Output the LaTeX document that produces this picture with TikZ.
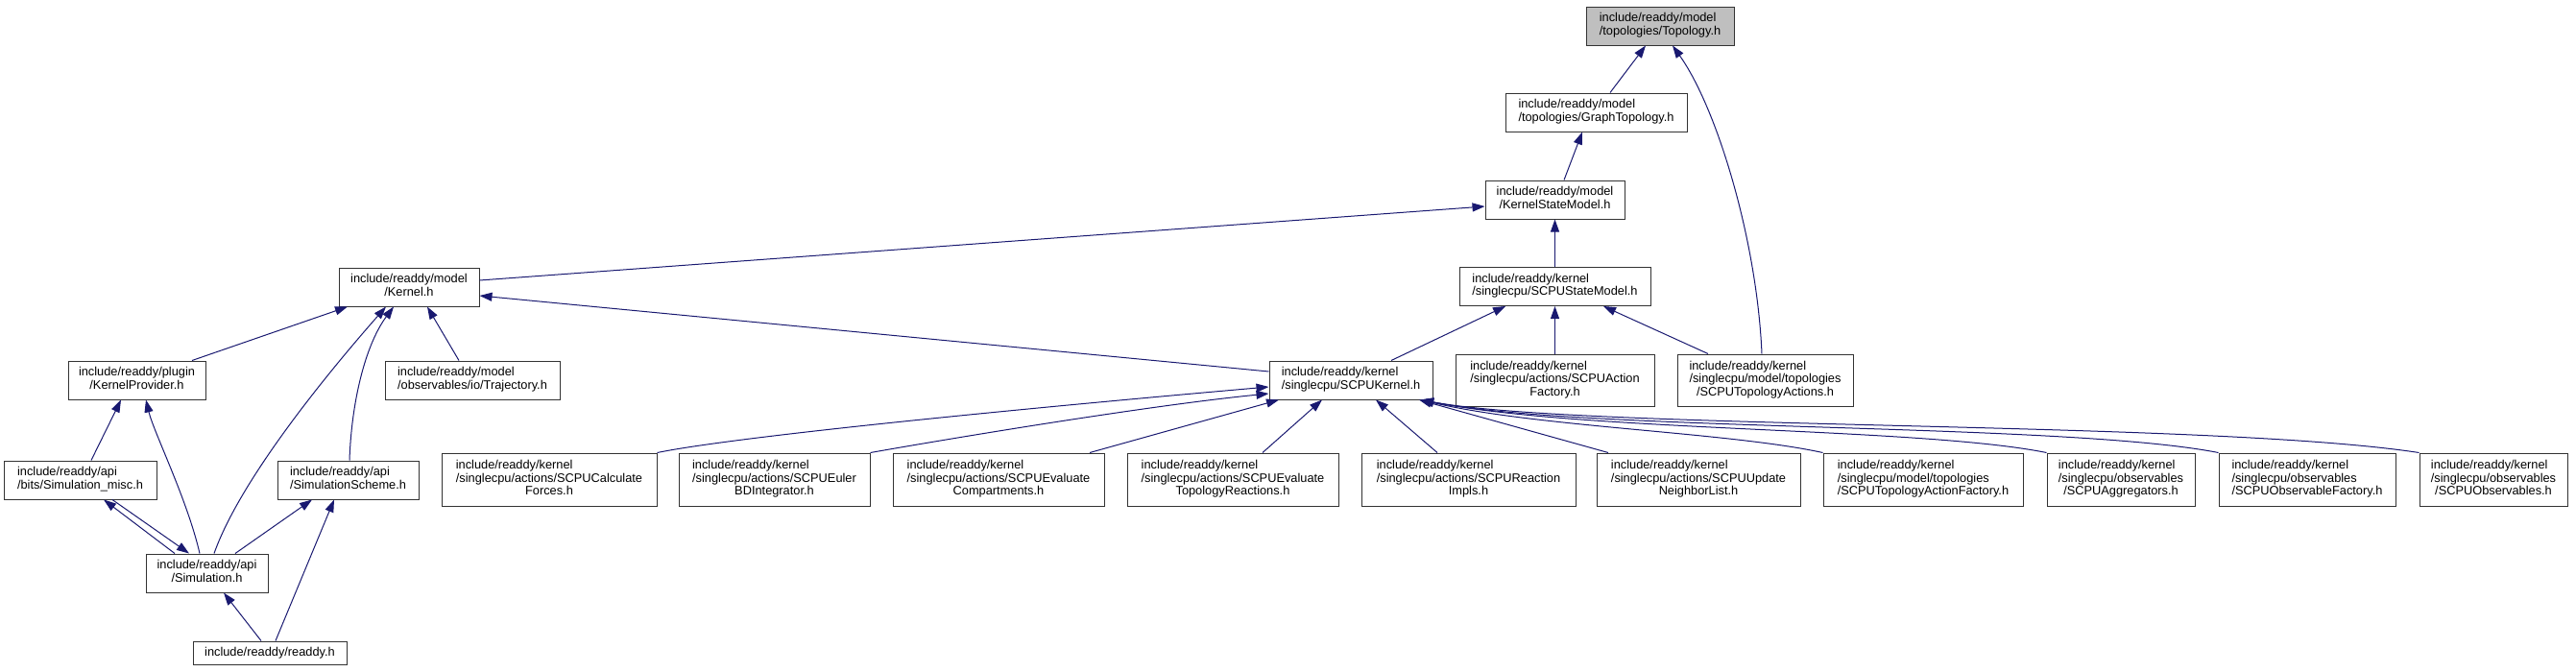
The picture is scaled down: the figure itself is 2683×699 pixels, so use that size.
\documentclass[tikz,border=0pt]{standalone}
\usepackage{fontspec}
\setmainfont{Liberation Sans}
\usetikzlibrary{arrows.meta}
\definecolor{edgeblue}{HTML}{191970}
\definecolor{topfill}{HTML}{BFBFBF}
\newcommand{\twol}[2]{\begin{tabular}{@{}l@{}}#1\\\multicolumn{1}{@{}c@{}}{#2}\end{tabular}}
\newcommand{\threel}[3]{\begin{tabular}{@{}l@{}}#1\\#2\\\multicolumn{1}{@{}c@{}}{#3}\end{tabular}}
\begin{document}
\begin{tikzpicture}[x=1pt,y=-1pt,
  box/.style={draw=black!80, line width=1pt, fill=white, inner sep=0pt,
    font=\fontsize{12.8}{13.4}\selectfont},
  two/.style={box, minimum height=40pt},
  three/.style={box, minimum height=55pt},
  edge/.style={draw=edgeblue, line width=1pt, -{Triangle[length=13pt,width=9pt]}}]
\useasboundingbox (0,0) rectangle (2683,699);

% nodes
\node[two, fill=topfill, minimum width=154pt] (top) at (1729,27) {\twol{include/readdy/model}{/topologies/Topology.h}};
\node[two, minimum width=189pt] (gt) at (1662.5,117) {\twol{include/readdy/model}{/topologies/GraphTopology.h}};
\node[two, minimum width=145pt] (ksm) at (1619.5,208) {\twol{include/readdy/model}{/KernelStateModel.h}};
\node[two, minimum width=199pt] (sksm) at (1619.5,298.5) {\twol{include/readdy/kernel}{/singlecpu/SCPUStateModel.h}};
\node[two, minimum width=146pt] (kern) at (426,299) {\twol{include/readdy/model}{/Kernel.h}};
\node[two, minimum width=182pt] (traj) at (492,396) {\twol{include/readdy/model}{/observables/io/Trajectory.h}};
\node[two, minimum width=143pt] (kp) at (142.5,396) {\twol{include/readdy/plugin}{/KernelProvider.h}};
\node[two, minimum width=170pt] (sk) at (1407,396) {\twol{include/readdy/kernel}{/singlecpu/SCPUKernel.h}};
\node[box, minimum width=207pt, minimum height=54pt] (saf) at (1619.5,396) {\threel{include/readdy/kernel}{/singlecpu/actions/SCPUAction}{Factory.h}};
\node[box, minimum width=183pt, minimum height=54pt] (sta) at (1838.5,396) {\threel{include/readdy/kernel}{/singlecpu/model/topologies}{/SCPUTopologyActions.h}};
\node[two, minimum width=159pt] (smisc) at (83.5,500) {\twol{include/readdy/api}{/bits/Simulation\_misc.h}};
\node[two, minimum width=147pt] (sscheme) at (362.5,500) {\twol{include/readdy/api}{/SimulationScheme.h}};
\node[three, minimum width=224pt] (cf) at (572,499.5) {\threel{include/readdy/kernel}{/singlecpu/actions/SCPUCalculate}{Forces.h}};
\node[three, minimum width=199pt] (eb) at (806.5,499.5) {\threel{include/readdy/kernel}{/singlecpu/actions/SCPUEuler}{BDIntegrator.h}};
\node[three, minimum width=220pt] (ec) at (1040,499.5) {\threel{include/readdy/kernel}{/singlecpu/actions/SCPUEvaluate}{Compartments.h}};
\node[three, minimum width=220pt] (etr) at (1284,499.5) {\threel{include/readdy/kernel}{/singlecpu/actions/SCPUEvaluate}{TopologyReactions.h}};
\node[three, minimum width=223pt] (ri) at (1529.5,499.5) {\threel{include/readdy/kernel}{/singlecpu/actions/SCPUReaction}{Impls.h}};
\node[three, minimum width=212pt] (un) at (1769,499.5) {\threel{include/readdy/kernel}{/singlecpu/actions/SCPUUpdate}{NeighborList.h}};
\node[three, minimum width=208pt] (taf) at (2003,499.5) {\threel{include/readdy/kernel}{/singlecpu/model/topologies}{/SCPUTopologyActionFactory.h}};
\node[three, minimum width=154pt] (agg) at (2209,499.5) {\threel{include/readdy/kernel}{/singlecpu/observables}{/SCPUAggregators.h}};
\node[three, minimum width=184pt] (obf) at (2403,499.5) {\threel{include/readdy/kernel}{/singlecpu/observables}{/SCPUObservableFactory.h}};
\node[three, minimum width=154pt] (obs) at (2597,499.5) {\threel{include/readdy/kernel}{/singlecpu/observables}{/SCPUObservables.h}};
\node[two, minimum width=127pt] (sim) at (215.5,597) {\twol{include/readdy/api}{/Simulation.h}};
\node[box, minimum width=160pt, minimum height=24pt] (rd) at (281,680) {include/readdy/readdy.h};

% edges
\draw[edge] ([xshift=14.5pt]gt.north) -- ([xshift=-15pt]top.south);
\draw[edge] ([xshift=-3.5pt]sta.north) .. controls (1830,250) and (1788,112) .. ([xshift=13pt]top.south);
\draw[edge] ([xshift=9.5pt]ksm.north) -- ([xshift=-14.5pt]gt.south);
\draw[edge] ([yshift=7pt]kern.east) -- ([yshift=-7pt]ksm.west);
\draw[edge] (sksm.north) -- (ksm.south);
\draw[edge] ([xshift=42pt]sk.north) -- ([xshift=-51.5pt]sksm.south);
\draw[edge] (saf.north) -- (sksm.south);
\draw[edge] ([xshift=-59.5pt]sta.north) -- ([xshift=50.5pt]sksm.south);
\draw[edge] ([xshift=57.5pt]kp.north) -- ([xshift=-64pt]kern.south);
\draw[edge] ([xshift=7.5pt]sim.north) .. controls (250,500) and (340,390) .. ([xshift=-24pt]kern.south);
\draw[edge] ([xshift=1.5pt]sscheme.north) .. controls (366,420) and (380,360) .. ([xshift=-16pt]kern.south);
\draw[edge] ([xshift=-14pt]traj.north) -- ([xshift=19pt]kern.south);
\draw[edge] ([yshift=9pt]sk.west) -- ([yshift=-9pt]kern.east);
\draw[edge] ([xshift=11.5pt]smisc.north) -- ([xshift=-16.5pt]kp.south);
\draw[edge] ([xshift=-7.5pt]sim.north) .. controls (195,520) and (160,450) .. ([xshift=9.5pt]kp.south);
\draw[edge] ([xshift=-33.5pt]sim.north) -- ([xshift=24.5pt]smisc.south);
\draw[edge] ([xshift=33.5pt]smisc.south) -- ([xshift=-18.5pt]sim.north);
\draw[edge] ([xshift=29.5pt]sim.north) -- ([xshift=-37.5pt]sscheme.south);
\draw[edge] ([xshift=6pt]rd.north) -- ([xshift=-14.5pt]sscheme.south);
\draw[edge] ([xshift=-9pt]rd.north) -- ([xshift=17.5pt]sim.south);
\draw[edge] (cf.north east) .. controls (780,452) and (1150,418) .. ([yshift=-7pt]sk.west);
\draw[edge] (eb.north east) .. controls (1000,455) and (1200,422) .. ([yshift=-14pt]sk.west);
\draw[edge] ([xshift=95pt]ec.north) -- ([xshift=-75pt]sk.south);
\draw[edge] ([xshift=31pt]etr.north) -- ([xshift=-30pt]sk.south);
\draw[edge] ([xshift=-32.5pt]ri.north) -- ([xshift=26pt]sk.south);
\draw[edge] ([xshift=-94pt]un.north) -- ([xshift=71pt]sk.south);
\draw[edge] (taf.north west) .. controls (1800,450) and (1600,445) .. ([xshift=73pt]sk.south);
\draw[edge] (agg.north west) .. controls (2000,445) and (1650,450) .. ([xshift=73pt]sk.south);
\draw[edge] (obf.north west) .. controls (2150,440) and (1650,450) .. ([xshift=73pt]sk.south);
\draw[edge] (obs.north west) .. controls (2300,438) and (1650,448) .. ([xshift=73pt]sk.south);
\end{tikzpicture}
\end{document}
